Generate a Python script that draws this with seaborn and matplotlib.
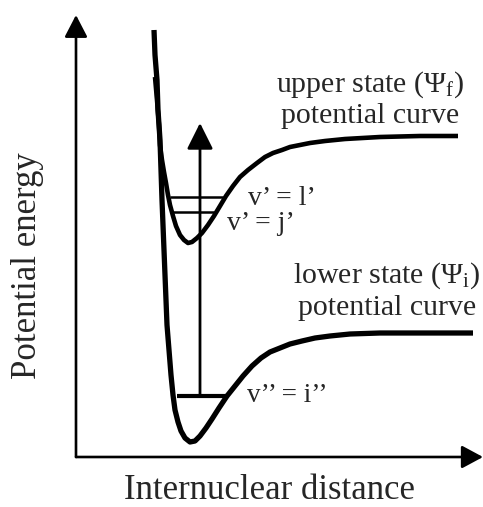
import numpy as np
import pandas as pd
import matplotlib
matplotlib.use("Agg")
import matplotlib.pyplot as plt
import seaborn as sns

sns.set_theme(style="white")
plt.rcParams['font.family'] = ['Liberation Serif', 'DejaVu Serif']
plt.rcParams['mathtext.fontset'] = 'custom'
plt.rcParams['mathtext.rm'] = 'Liberation Serif'
plt.rcParams['mathtext.it'] = 'Liberation Serif:italic'

# ---- data (arbitrary units: internuclear distance, potential energy) ----
lower_r = [0.78, 0.79, 0.81, 0.82, 0.84, 0.85, 0.86, 0.87, 0.88, 0.89, 0.90, 0.91,
           0.93, 0.95, 0.97, 0.99, 1.02, 1.05, 1.09, 1.14, 1.19, 1.24, 1.30, 1.36,
           1.43, 1.51, 1.59, 1.67, 1.76, 1.85, 1.94, 2.04, 2.14, 2.26, 2.39, 2.54,
           2.74, 3.04, 3.44, 3.97]
lower_E = [4.27, 4.02, 3.77, 3.47, 3.17, 2.87, 2.57, 2.32, 2.07, 1.82, 1.57, 1.32,
           1.07, 0.82, 0.62, 0.47, 0.35, 0.26, 0.19, 0.15, 0.16, 0.21, 0.29, 0.38,
           0.49, 0.61, 0.71, 0.81, 0.91, 0.99, 1.05, 1.09, 1.13, 1.16, 1.19, 1.21,
           1.23, 1.24, 1.24, 1.24]

upper_r = [0.79, 0.81, 0.83, 0.84, 0.86, 0.88, 0.90, 0.92, 0.94, 0.97, 1.00, 1.04,
           1.08, 1.12, 1.16, 1.21, 1.26, 1.32, 1.38, 1.44, 1.50, 1.57, 1.64, 1.72,
           1.81, 1.89, 1.97, 2.06, 2.14, 2.24, 2.34, 2.49, 2.69, 3.04, 3.44, 3.82]
upper_E = [3.80, 3.57, 3.32, 3.12, 2.97, 2.85, 2.74, 2.62, 2.52, 2.41, 2.31, 2.22,
           2.17, 2.14, 2.15, 2.19, 2.24, 2.32, 2.41, 2.51, 2.61, 2.71, 2.80, 2.87,
           2.94, 3.00, 3.04, 3.07, 3.10, 3.12, 3.14, 3.16, 3.18, 3.20, 3.21, 3.21]

level_names = ["v\u2019 = l\u2019", "v\u2019 = j\u2019", "v\u2019\u2019 = i\u2019\u2019"]
level_E = [2.60, 2.45, 0.61]
level_r0 = [0.94, 0.96, 1.01]
level_r1 = [1.47, 1.38, 1.52]

transition_r = 1.24
transition_E = [0.61, 3.34]

upper_label = ["upper state (\u03a8$_\\mathregular{f}$)", "potential curve"]
lower_label = ["lower state (\u03a8$_\\mathregular{i}$)", "potential curve"]
x_label = "Internuclear distance"
y_label = "Potential energy"

df = pd.DataFrame({
    "r": lower_r + upper_r,
    "E": lower_E + upper_E,
    "state": ["lower"] * len(lower_r) + ["upper"] * len(upper_r),
})

fig = plt.figure(figsize=(4.83, 5.07), dpi=100)
ax = fig.add_axes([0, 0, 1, 1])
ax.set_xlim(-0.76, 4.07)
ax.set_ylim(-0.50, 4.57)
ax.set_axis_off()

sns.lineplot(data=df[df.state == "lower"], x="r", y="E", sort=False, estimator=None,
             color="black", lw=3.8, ax=ax, legend=False,
             solid_joinstyle="round", solid_capstyle="butt")
sns.lineplot(data=df[df.state == "upper"], x="r", y="E", sort=False, estimator=None,
             color="black", lw=3.3, ax=ax, legend=False,
             solid_joinstyle="round", solid_capstyle="butt")

# axes arrows
ax.annotate("", xy=(0, 4.42), xytext=(0, 0),
            arrowprops=dict(arrowstyle="-|>,head_length=13.5,head_width=7", mutation_scale=1,
                            lw=1.9, color="black", shrinkA=0, shrinkB=0))
ax.annotate("", xy=(4.07, 0), xytext=(0, 0),
            arrowprops=dict(arrowstyle="-|>,head_length=13,head_width=7", mutation_scale=1,
                            lw=1.9, color="black", shrinkA=0, shrinkB=0))

# vibrational levels
for e, r0, r1, lw in zip(level_E, level_r0, level_r1, [1.8, 1.8, 3.0]):
    ax.plot([r0, r1], [e, e], color="black", lw=lw, solid_capstyle="butt")

# transition arrow
ax.annotate("", xy=(transition_r, transition_E[1]), xytext=(transition_r, transition_E[0]),
            arrowprops=dict(arrowstyle="-|>,head_length=16,head_width=8", mutation_scale=1,
                            lw=2.0, color="black", shrinkA=0, shrinkB=0))

# level labels
ax.text(1.72, 2.52, level_names[0], fontsize=20, ha="left", va="baseline")
ax.text(1.51, 2.27, level_names[1], fontsize=20, ha="left", va="baseline")
ax.text(1.71, 0.55, level_names[2], fontsize=19.5, ha="left", va="baseline")

# curve labels
ax.text(2.94, 3.65, upper_label[0], fontsize=21.5, ha="center", va="baseline")
ax.text(2.94, 3.34, upper_label[1], fontsize=21.5, ha="center", va="baseline")
ax.text(3.11, 1.74, lower_label[0], fontsize=21.5, ha="center", va="baseline")
ax.text(3.11, 1.42, lower_label[1], fontsize=21.5, ha="center", va="baseline")

# axis labels
ax.text(1.94, -0.42, x_label, fontsize=25, ha="center", va="baseline")
ax.text(-0.48, 1.91, y_label, fontsize=25, ha="center", va="center", rotation=90)

fig.savefig("out.png", dpi=100)
